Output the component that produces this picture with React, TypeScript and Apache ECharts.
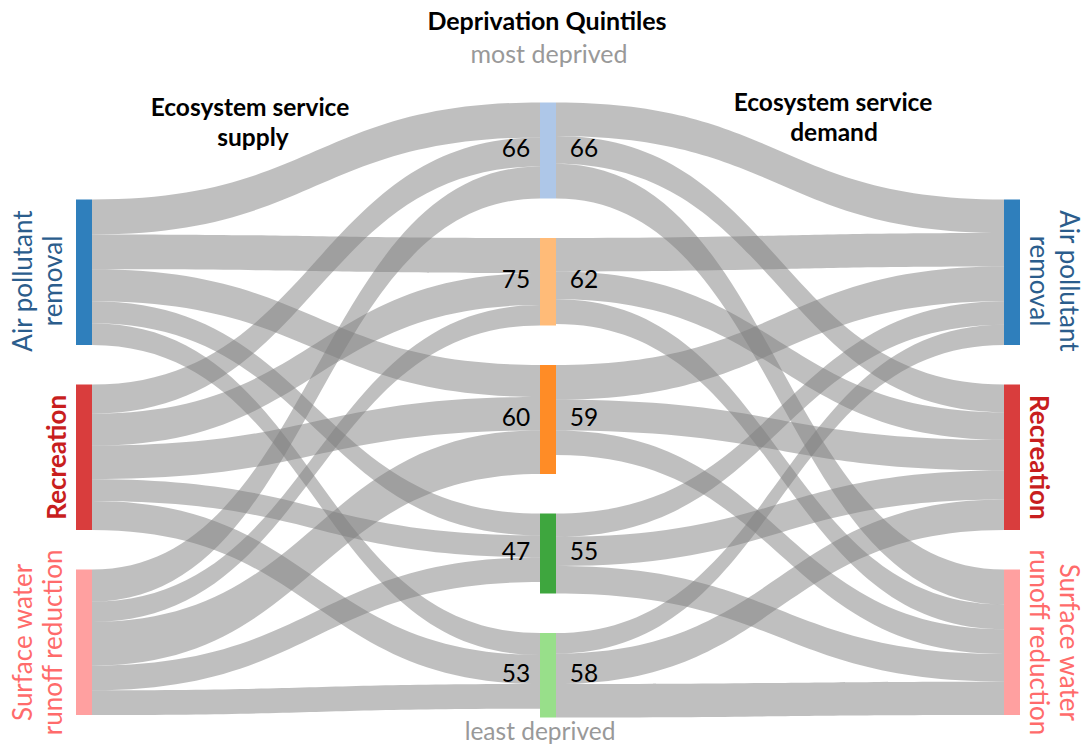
import React, { useEffect, useRef } from 'react';
import * as echarts from 'echarts';

// ---- data ----
const services = ['Air pollutant removal', 'Recreation', 'Surface water runoff reduction'];
const serviceLabels = ['Air pollutant\nremoval', 'Recreation', 'Surface water\nrunoff reduction'];
const serviceColors = ['#2f7fbc', '#d93d3d', '#ffa0a0'];
const serviceTextColors = ['#2b5d8c', '#c81e1e', '#ff6b6b'];
const serviceBold = [false, true, false];
const quintiles = ['Q1', 'Q2', 'Q3', 'Q4', 'Q5'];
const quintileColors = ['#aec7e8', '#ffbb78', '#ff8c26', '#3ea63e', '#98df8a'];
const supplyLabels = [66, 75, 60, 47, 53];
const demandLabels = [66, 62, 59, 55, 58];
// supply: service -> quintile (Q1..Q5)
const supplyAir = [24, 24, 22, 15, 15];
const supplyRec = [20, 22, 23, 15, 20];
const supplySurf = [22, 14, 30, 17, 17];
// demand: quintile (Q1..Q5) -> service
const demandAir = [23, 23, 24, 16, 14];
const demandRec = [19, 19, 21, 20, 21];
const demandSurf = [24, 17, 17, 19, 23];
// invisible spacer that pushes the outer columns down (bottom alignment)
const spacerValue = 39.5;

const FONT = 'Lato, "Open Sans", sans-serif';

function buildOption() {
  const supplyFlows = [supplyAir, supplyRec, supplySurf];
  const demandFlows = [demandAir, demandRec, demandSurf];
  const nodes: any[] = [];
  const spacer = (name: string, depth: number) => ({
    name,
    depth,
    value: spacerValue,
    itemStyle: { color: 'rgba(0,0,0,0)', borderWidth: 0 },
    label: { show: false },
  });
  nodes.push(spacer('spacer-supply', 0));
  services.forEach((s, i) => {
    nodes.push({
      name: 'supply|' + s,
      depth: 0,
      itemStyle: { color: serviceColors[i] },
      label: {
        show: true,
        position: [i === 1 ? -20 : -39, i === 0 ? '56%' : '50%'],
        rotate: 90,
        align: 'center',
        verticalAlign: 'middle',
        formatter: serviceLabels[i],
        color: serviceTextColors[i],
        fontSize: 26,
        lineHeight: 30,
        fontWeight: serviceBold[i] ? 'bold' : 'normal',
        fontFamily: FONT,
      },
    });
  });
  quintiles.forEach((q, i) => {
    nodes.push({
      name: q,
      depth: 1,
      itemStyle: { color: quintileColors[i] },
      label: {
        show: true,
        position: 'inside',
        offset: [2, -3],
        formatter: '{l|' + supplyLabels[i] + '}{s| }{r|' + demandLabels[i] + '}',
        rich: {
          l: { width: 34, align: 'center', fontSize: 24.5, color: '#000', fontFamily: FONT },
          s: { width: 34, align: 'center', fontSize: 24.5 },
          r: { width: 34, align: 'center', fontSize: 24.5, color: '#000', fontFamily: FONT },
        },
      },
    });
  });
  nodes.push(spacer('spacer-demand', 2));
  services.forEach((s, i) => {
    nodes.push({
      name: 'demand|' + s,
      depth: 2,
      itemStyle: { color: serviceColors[i] },
      label: {
        show: true,
        position: [i === 1 ? 36 : 51, i === 0 ? '56%' : '50%'],
        rotate: -90,
        align: 'center',
        verticalAlign: 'middle',
        formatter: serviceLabels[i],
        color: serviceTextColors[i],
        fontSize: 26,
        lineHeight: 30,
        fontWeight: serviceBold[i] ? 'bold' : 'normal',
        fontFamily: FONT,
      },
    });
  });

  const links: any[] = [];
  services.forEach((s, i) => {
    quintiles.forEach((q, j) => {
      links.push({ source: 'supply|' + s, target: q, value: supplyFlows[i][j] });
    });
  });
  quintiles.forEach((q, j) => {
    services.forEach((s, i) => {
      links.push({ source: q, target: 'demand|' + s, value: demandFlows[i][j] });
    });
  });

  const txt = (text: string, x: number, y: number, size: number, bold: boolean, fill: string) => ({
    type: 'text',
    x,
    y,
    silent: true,
    style: {
      text,
      fill,
      fontSize: size,
      fontWeight: bold ? 'bold' : 'normal',
      fontFamily: FONT,
      align: 'center',
      verticalAlign: 'middle',
    },
  });

  return {
    animation: false,
    backgroundColor: '#ffffff',
    graphic: [
      txt('Deprivation Quintiles', 547, 20, 25, true, '#000'),
      txt('most deprived', 549, 53, 25, false, '#999999'),
      txt('least deprived', 540, 730, 24.5, false, '#999999'),
      txt('Ecosystem service', 250, 106, 24.5, true, '#000'),
      txt('supply', 253, 136, 24.5, true, '#000'),
      txt('Ecosystem service', 833, 101, 24.5, true, '#000'),
      txt('demand', 834, 131, 24.5, true, '#000'),
    ],
    series: [
      {
        type: 'sankey',
        left: 76,
        top: 102.5,
        width: 944,
        height: 615,
        nodeWidth: 16,
        nodeGap: 39.5,
        layoutIterations: 0,
        nodeAlign: 'left',
        draggable: false,
        emphasis: { disabled: true },
        itemStyle: { borderWidth: 0 },
        lineStyle: { color: '#808080', opacity: 0.5, curveness: 0.5 },
        data: nodes,
        links,
      },
    ],
  };
}

export default function App() {
  const ref = useRef<HTMLDivElement>(null);
  useEffect(() => {
    if (!ref.current) return;
    const chart = echarts.init(ref.current, undefined, { renderer: 'svg' });
    chart.setOption(buildOption() as any);
    return () => chart.dispose();
  }, []);
  return (
    <div
      ref={ref}
      style={{ position: 'absolute', left: 0, top: 0, width: 1085, height: 746, background: '#fff' }}
    />
  );
}
